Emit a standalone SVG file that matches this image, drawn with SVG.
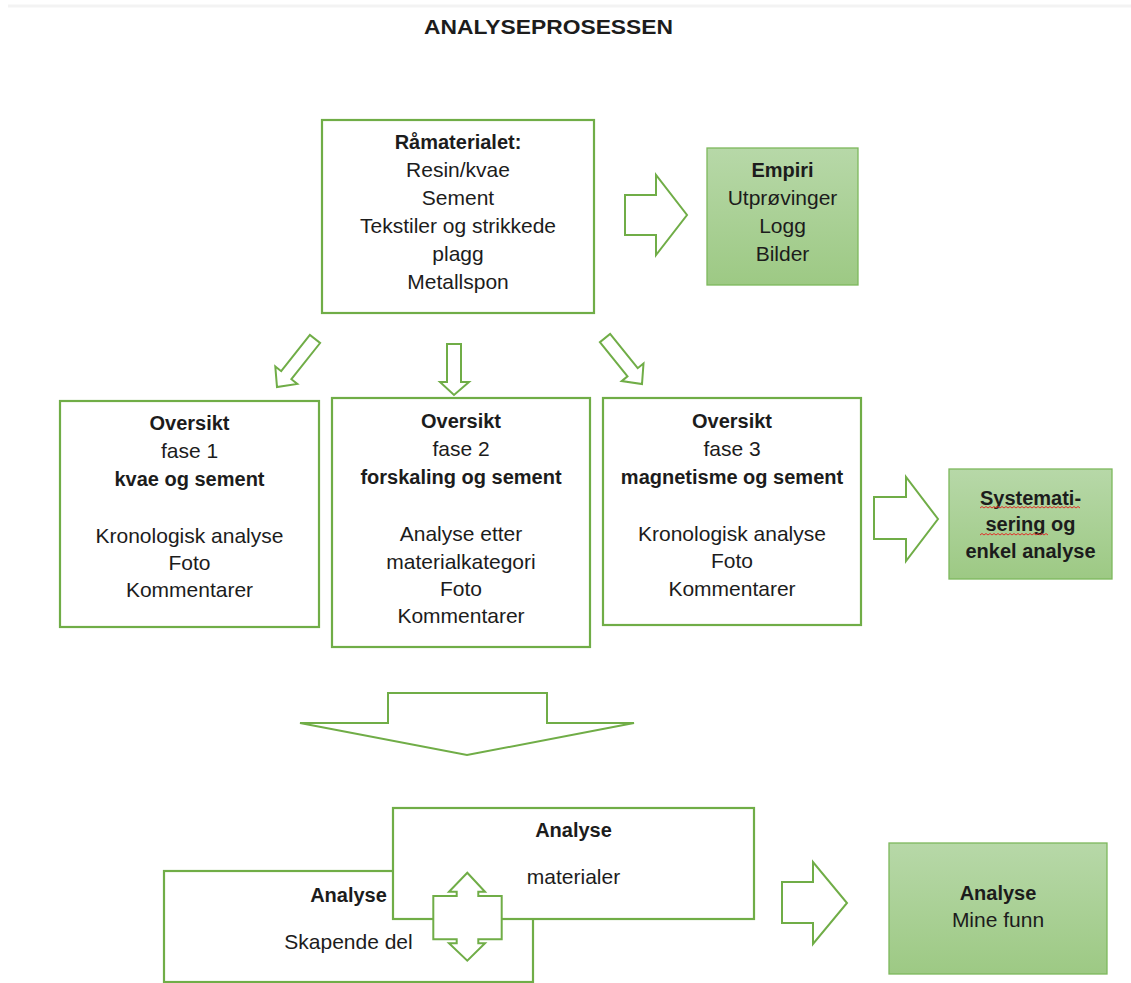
<svg xmlns="http://www.w3.org/2000/svg" width="1131" height="983" viewBox="0 0 1131 983">
<style>
.box{fill:#fff;stroke:#70AD47;stroke-width:2.2}
.gbox{fill:url(#gfill);stroke:#7DB85C;stroke-width:1.3}
.arr{fill:#fff;stroke:#70AD47;stroke-width:2;stroke-linejoin:miter}
.t{font-family:"Liberation Sans",Arial,sans-serif;font-size:21px;fill:#1c1c1c;text-anchor:middle}
.b{font-weight:bold;font-size:20px}
.sq{fill:none;stroke:#E0302A;stroke-width:1}
</style>
<defs>
<linearGradient id="gfill" x1="0" y1="0" x2="0" y2="1">
<stop offset="0" stop-color="#B7D8A8"/>
<stop offset="1" stop-color="#9DC984"/>
</linearGradient>
</defs>
<rect x="0" y="0" width="1131" height="983" fill="#fff"/>
<line x1="8" y1="6" x2="1131" y2="6" stroke="#F3F3F3" stroke-width="3"/>
<text class="t" x="548.5" y="34" font-weight="bold" font-size="26" textLength="249" lengthAdjust="spacingAndGlyphs">ANALYSEPROSESSEN</text>

<g id="node-ramaterialet">
<rect class="box" x="322" y="120" width="272" height="193"/>
<text class="t b" x="458" y="149">Råmaterialet:</text>
<text class="t" x="458" y="177">Resin/kvae</text>
<text class="t" x="458" y="205">Sement</text>
<text class="t" x="458" y="233">Tekstiler og strikkede</text>
<text class="t" x="458" y="261">plagg</text>
<text class="t" x="458" y="289">Metallspon</text>
</g>

<g id="node-empiri">
<rect class="gbox" x="707" y="148" width="151" height="137"/>
<text class="t b" x="782.5" y="177">Empiri</text>
<text class="t" x="782.5" y="205">Utprøvinger</text>
<text class="t" x="782.5" y="233">Logg</text>
<text class="t" x="782.5" y="261">Bilder</text>
</g>

<g id="node-fase1">
<rect class="box" x="60" y="401" width="259" height="226"/>
<text class="t b" x="189.5" y="430">Oversikt</text>
<text class="t" x="189.5" y="458">fase 1</text>
<text class="t b" x="189.5" y="486">kvae og sement</text>
<text class="t" x="189.5" y="543">Kronologisk analyse</text>
<text class="t" x="189.5" y="570">Foto</text>
<text class="t" x="189.5" y="597">Kommentarer</text>
</g>

<g id="node-fase2">
<rect class="box" x="332" y="398" width="258" height="249"/>
<text class="t b" x="461" y="428">Oversikt</text>
<text class="t" x="461" y="456">fase 2</text>
<text class="t b" x="461" y="484">forskaling og sement</text>
<text class="t" x="461" y="541">Analyse etter</text>
<text class="t" x="461" y="569">materialkategori</text>
<text class="t" x="461" y="596">Foto</text>
<text class="t" x="461" y="623">Kommentarer</text>
</g>

<g id="node-fase3">
<rect class="box" x="603" y="398" width="258" height="227"/>
<text class="t b" x="732" y="428">Oversikt</text>
<text class="t" x="732" y="456">fase 3</text>
<text class="t b" x="732" y="484">magnetisme og sement</text>
<text class="t" x="732" y="541">Kronologisk analyse</text>
<text class="t" x="732" y="568">Foto</text>
<text class="t" x="732" y="596">Kommentarer</text>
</g>

<g id="node-systematisering">
<rect class="gbox" x="949" y="469" width="163" height="110"/>
<text class="t b" x="1030.5" y="505">Systemati-</text>
<text class="t b" x="1030.5" y="531">sering og</text>
<text class="t b" x="1030.5" y="558">enkel analyse</text>
<path class="sq" d="M980,508 l2,-1.5 l2,1.5 l2,-1.5 l2,1.5 l2,-1.5 l2,1.5 l2,-1.5 l2,1.5 l2,-1.5 l2,1.5 l2,-1.5 l2,1.5 l2,-1.5 l2,1.5 l2,-1.5 l2,1.5 l2,-1.5 l2,1.5 l2,-1.5 l2,1.5 l2,-1.5 l2,1.5 l2,-1.5 l2,1.5 l2,-1.5 l2,1.5 l2,-1.5 l2,1.5 l2,-1.5 l2,1.5 l2,-1.5 l2,1.5 l2,-1.5 l2,1.5 l2,-1.5 l2,1.5 l2,-1.5 l2,1.5 l2,-1.5 l2,1.5 l2,-1.5 l2,1.5 l2,-1.5 l2,1.5 l2,-1.5 l2,1.5 l2,-1.5 l2,1.5 l2,-1.5 l2,1.5"/>
<path class="sq" d="M980,535 l2,-1.5 l2,1.5 l2,-1.5 l2,1.5 l2,-1.5 l2,1.5 l2,-1.5 l2,1.5 l2,-1.5 l2,1.5 l2,-1.5 l2,1.5 l2,-1.5 l2,1.5 l2,-1.5 l2,1.5 l2,-1.5 l2,1.5 l2,-1.5 l2,1.5 l2,-1.5 l2,1.5 l2,-1.5 l2,1.5 l2,-1.5 l2,1.5 l2,-1.5 l2,1.5 l2,-1.5 l2,1.5 l2,-1.5 l2,1.5 l2,-1.5 l2,1.5"/>
</g>

<g id="node-skapende">
<rect class="box" x="164" y="871" width="369" height="111"/>
<text class="t b" x="348.5" y="902">Analyse</text>
<text class="t" x="348.5" y="949">Skapende del</text>
</g>

<g id="node-materialer">
<rect class="box" x="393" y="808" width="361" height="111"/>
<text class="t b" x="573.5" y="837">Analyse</text>
<text class="t" x="573.5" y="884">materialer</text>
</g>

<g id="node-minefunn">
<rect class="gbox" x="889" y="843" width="218" height="131"/>
<text class="t b" x="998" y="900">Analyse</text>
<text class="t" x="998" y="927">Mine funn</text>
</g>

<g id="connectors">
<path class="arr" d="M625,195 H656 V175 L687,215 L656,255 V235 H625 Z"/>
<path class="arr" d="M320.1,343 L291.4,379.2 L297.3,383.9 L277,387 L275.3,366.5 L281.2,371.2 L309.9,335 Z"/>
<path class="arr" d="M447,344 H461 V382 H469 L454,395 L440,382 H447 Z"/>
<path class="arr" d="M610.1,333.9 L637.7,368.2 L643.5,363.5 L642,384 L621.7,381.1 L627.5,376.4 L599.9,342.1 Z"/>
<path class="arr" d="M874,497 H906 V477 L938,519 L906,561 V539 H874 Z"/>
<path class="arr" d="M388,693 H547 V723 H634 L467,755 L300,723 H388 Z"/>
<path class="arr" d="M467.3,872.7 L485,891.7 H478.3 V896 H501.7 V939.3 H478.3 V943.3 H485 L467.3,960.7 L449,943.3 H456.7 V939.3 H433.3 V896 H456.7 V891.7 H449 Z"/>
<path class="arr" d="M782,882 H813 V862 L847,903 L813,944 V923 H782 Z"/>
</g>
</svg>
